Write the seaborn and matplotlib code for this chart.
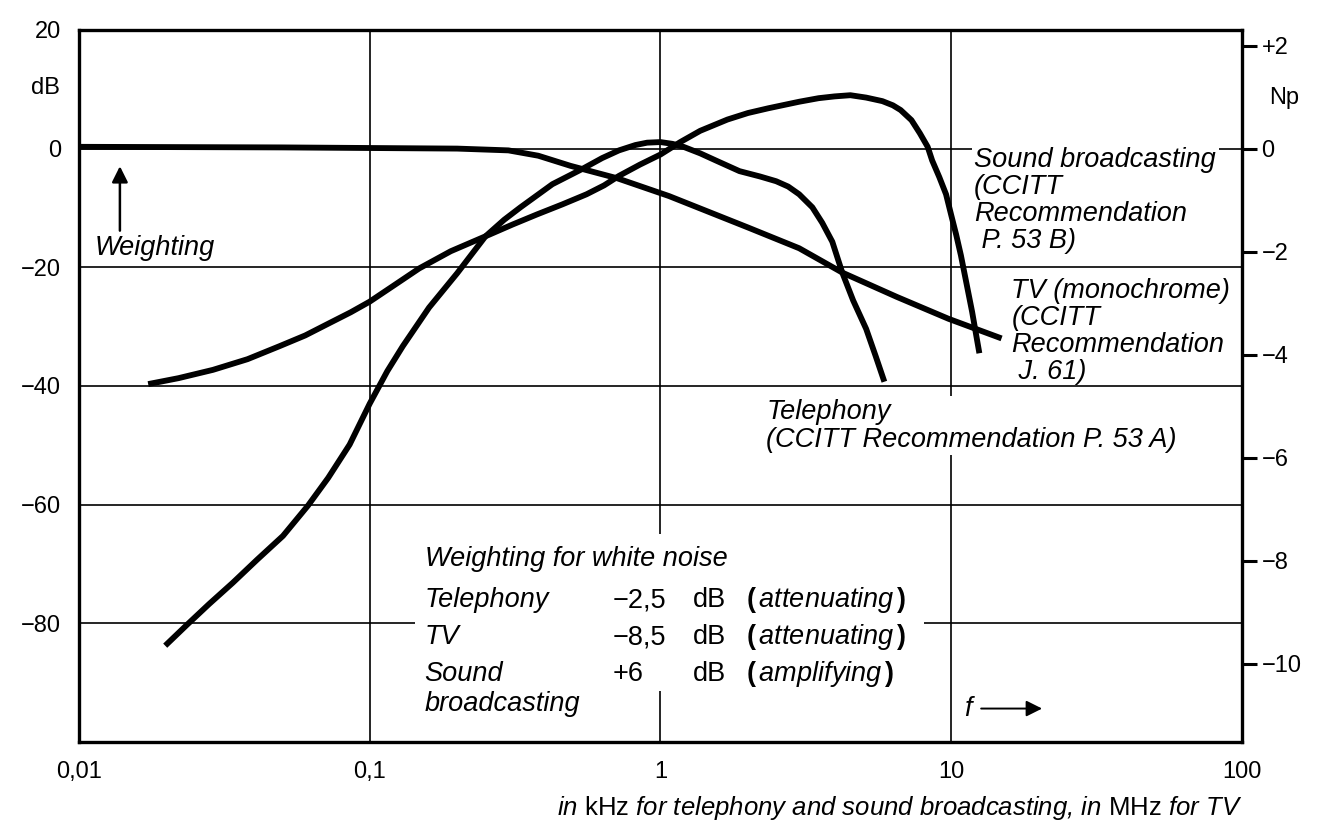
import numpy as np
import pandas as pd
import matplotlib
matplotlib.use("Agg")
import matplotlib.pyplot as plt
import seaborn as sns
from matplotlib.patches import Rectangle
from matplotlib.ticker import FixedLocator, FixedFormatter, FuncFormatter, NullLocator

# Telephony weighting (CCITT P.53 A), f in kHz
tel_f = [0.0198, 0.0235, 0.028, 0.0338, 0.041, 0.0503, 0.0613, 0.072, 0.0853, 0.1,
         0.115, 0.13, 0.16, 0.2, 0.25, 0.29, 0.33, 0.425, 0.54, 0.63, 0.72, 0.82, 0.9,
         1.0, 1.1, 1.2, 1.37, 1.55, 1.87, 2.2, 2.5, 2.75, 3.0, 3.33, 3.6, 3.9, 4.22,
         4.6, 5.1, 5.5, 5.89]
tel_db = [-83.8, -80.3, -76.8, -73.2, -69.3, -65.3, -60.2, -55.5, -49.9, -43.0,
          -37.5, -33.3, -26.8, -21.0, -14.8, -12.0, -9.9, -6.0, -3.4, -1.6, -0.3, 0.6, 1.0,
          1.1, 0.8, 0.3, -0.8, -2.0, -3.8, -4.7, -5.5, -6.4, -7.7, -9.9, -12.5, -15.7, -20.9,
          -25.6, -30.4, -35.0, -39.3]

# Sound broadcasting weighting (CCITT P.53 B), f in kHz
snd_f = [0.0173, 0.022, 0.0289, 0.038, 0.049, 0.06, 0.0728, 0.086, 0.1, 0.12, 0.148,
         0.19, 0.258, 0.31, 0.376, 0.46, 0.557, 0.64, 0.72, 0.85, 1.0, 1.17, 1.37, 1.7,
         2.0, 2.35, 3.0, 3.5, 3.97, 4.5, 5.1, 5.8, 6.3, 6.7, 7.3, 7.8, 8.3, 8.6, 9.1, 9.6,
         10.0, 10.4, 10.8, 11.2, 11.8, 12.5]
snd_db = [-39.7, -38.7, -37.3, -35.5, -33.3, -31.5, -29.4, -27.6, -25.8, -23.2, -20.2,
          -17.3, -14.5, -12.8, -11.1, -9.4, -7.7, -6.2, -4.6, -2.7, -1.0, 1.1, 3.0, 4.9,
          6.0, 6.8, 7.9, 8.5, 8.8, 9.0, 8.6, 8.0, 7.3, 6.5, 4.8, 2.6, 0.3, -2.0, -4.8, -7.7,
          -11.2, -14.5, -18.0, -21.9, -27.5, -34.5]

# TV (monochrome) weighting (CCITT J.61), f in MHz
tv_f = [0.01, 0.05, 0.1, 0.2, 0.3, 0.38, 0.49, 0.71, 1.07, 2.0, 3.0, 4.22, 6.5, 9.8, 14.9]
tv_db = [0.3, 0.2, 0.1, 0.0, -0.3, -1.2, -2.9, -5.0, -8.0, -13.3, -16.8, -20.9, -25.0,
         -28.7, -32.0]

x_ticks = [0.01, 0.1, 1, 10, 100]
x_labels = ["0,01", "0,1", "1", "10", "100"]
db_ticks = [20, 0, -20, -40, -60, -80]
np_ticks = [2, 0, -2, -4, -6, -8, -10]
DB_PER_NP = 8.686

sns.set_style("white")
plt.rcParams["font.family"] = ["Liberation Sans", "DejaVu Sans"]
plt.rcParams["mathtext.fontset"] = "custom"
plt.rcParams["mathtext.rm"] = "Liberation Sans"
plt.rcParams["mathtext.it"] = "Liberation Sans:italic"
plt.rcParams["mathtext.bf"] = "Liberation Sans:bold"
for key in ["text.color", "axes.labelcolor", "xtick.color", "ytick.color"]:
    plt.rcParams[key] = "black"

fig = plt.figure(figsize=(13.36, 8.21), dpi=100)
ax = fig.add_axes([0.0591, 0.0965, 0.8705, 0.867])

for f, db in [(tel_f, tel_db), (snd_f, snd_db), (tv_f, tv_db)]:
    df = pd.DataFrame({"f": f, "db": db})
    sns.lineplot(data=df, x="f", y="db", ax=ax, color="black", linewidth=4.2,
                 estimator=None, sort=False, zorder=3, solid_capstyle="butt",
                 solid_joinstyle="round")

ax.set_xscale("log")
ax.set_xlim(0.01, 100)
ax.set_ylim(-100, 20)
ax.xaxis.set_major_locator(FixedLocator(x_ticks))
ax.xaxis.set_major_formatter(FixedFormatter(x_labels))
ax.xaxis.set_minor_locator(NullLocator())
ax.yaxis.set_major_locator(FixedLocator(db_ticks))
ax.yaxis.set_major_formatter(FuncFormatter(
    lambda v, p: "0" if v == 0 else ("%d" % v).replace("-", "\u2212")))
ax.tick_params(axis="both", length=0, labelsize=17)
ax.tick_params(axis="y", pad=13)
ax.tick_params(axis="x", pad=14)
ax.grid(True, which="major", color="black", linewidth=1.2)
ax.set_axisbelow(True)
for s in ax.spines.values():
    s.set_visible(True)
    s.set_color("black")
    s.set_linewidth(2.4)
ax.set_ylabel("")

# right axis in neper
ax2 = ax.twinx()
ax2.set_ylim(-100 / DB_PER_NP, 20 / DB_PER_NP)
ax2.yaxis.set_major_locator(FixedLocator(np_ticks))
ax2.yaxis.set_major_formatter(FuncFormatter(
    lambda v, p: "+%d" % v if v > 0 else ("0" if v == 0 else "\u2212%d" % -v)))
ax2.tick_params(axis="y", direction="out", length=11, width=2.2, labelsize=17, pad=3)
for s in ax2.spines.values():
    s.set_visible(False)

fig.text(0.0337, 0.893, "dB", fontsize=17, ha="center", va="center")
fig.text(0.961, 0.881, "Np", fontsize=17, ha="center", va="center")

ax.set_xlabel(r"in $\mathrm{kHz}$ for telephony and sound broadcasting, in $\mathrm{MHz}$ for TV",
              style="italic", fontsize=18.5, loc="right", labelpad=8)

white = dict(facecolor="white", edgecolor="none", pad=2)
it = dict(style="italic", fontsize=19.5, zorder=4)
up = dict(fontsize=19.5, zorder=4)

# curve labels
ax.text(12.0, -8.7, "Sound broadcasting\n(CCITT\nRecommendation\n P. 53 B)",
        ha="left", va="center", bbox=white, linespacing=1.05, **it)
ax.text(16.1, -30.8, "TV (monochrome)\n(CCITT\nRecommendation\n J. 61)",
        ha="left", va="center", linespacing=1.05, **it)
ax.text(2.31, -46.7, "Telephony\n(CCITT Recommendation P. 53 A)",
        ha="left", va="center", bbox=white, linespacing=1.1, **it)

# weighting arrow
ax.annotate("", xy=(0.01383, -2.5), xytext=(0.01383, -14.3),
            arrowprops=dict(arrowstyle="-|>", color="black", lw=1.8, mutation_scale=24))
ax.text(0.0113, -16.8, "Weighting", ha="left", va="center", **it)

# white-noise weighting block
ax.add_patch(Rectangle((0.143, -91.4), 8.07 - 0.143, 26.4, facecolor="white",
                       edgecolor="none", zorder=1))
ax.text(0.1545, -69.2, "Weighting for white noise", ha="left", va="center", **it)
rows = [("Telephony", "\u22122,5", "attenuating", -76.1),
        ("TV", "\u22128,5", "attenuating", -82.4),
        ("Sound", "+6", "amplifying", -88.5)]
for name, val, word, y in rows:
    ax.text(0.1545, y, name, ha="left", va="center", **it)
    ax.text(0.684, y, val, ha="left", va="center", **up)
    ax.text(1.288, y, "dB", ha="left", va="center", **up)
    ax.text(1.975, y, r"$\mathbf{(}\,\mathit{%s}\,\mathbf{)}$" % word,
            ha="left", va="center", **up)
ax.text(0.1545, -93.6, "broadcasting", ha="left", va="center", **it)

# frequency arrow
ax.text(11.1, -94.4, "f", ha="left", va="center", **it)
ax.annotate("", xy=(21.0, -94.4), xytext=(12.4, -94.4),
            arrowprops=dict(arrowstyle="-|>", color="black", lw=1.4, mutation_scale=24))

fig.savefig("out.png", dpi=100)
